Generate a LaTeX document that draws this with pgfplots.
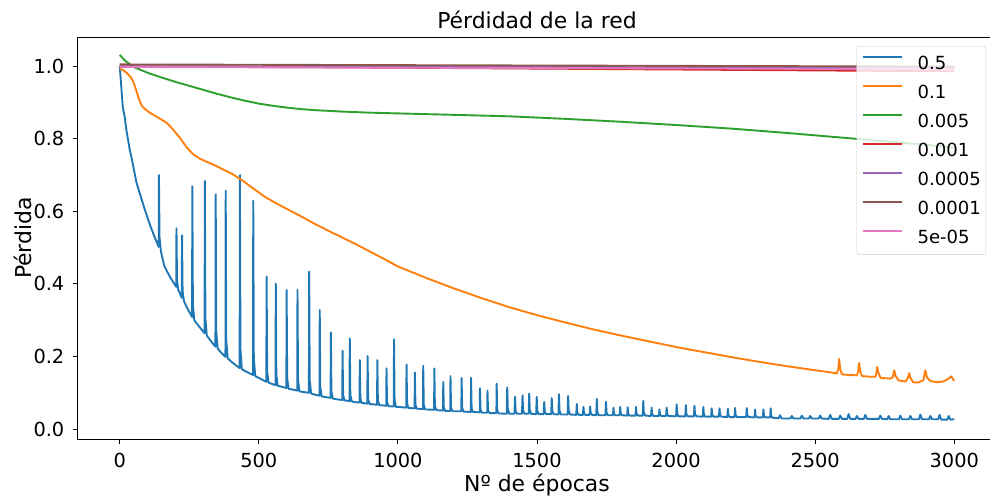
\documentclass[border=0pt]{standalone}
\usepackage{fontspec}
\setmainfont{DejaVu Sans}
\usepackage{pgfplots}
\pgfplotsset{compat=1.18}

% tab10 palette
\definecolor{tabblue}{HTML}{1F77B4}
\definecolor{taborange}{HTML}{FF7F0E}
\definecolor{tabgreen}{HTML}{2CA02C}
\definecolor{tabred}{HTML}{D62728}
\definecolor{tabpurple}{HTML}{9467BD}
\definecolor{tabbrown}{HTML}{8C564B}
\definecolor{tabpink}{HTML}{E377C2}
\definecolor{legframe}{HTML}{CCCCCC}

\newcommand{\tickfont}{\fontsize{19.35}{23}\selectfont}
\newcommand{\legfont}{\fontsize{18.06}{21}\selectfont}
\newcommand{\labfont}{\fontsize{21.9}{26}\selectfont}

\begin{document}
\begin{tikzpicture}
\begin{axis}[
  scale only axis, width=918pt, height=402pt,
  xmin=-150, xmax=3150, ymin=-0.0275, ymax=1.0806,
  axis line style={line width=1pt, black},
  tick align=outside, major tick length=4.5pt,
  every tick/.style={black, line width=1pt},
  xtick pos=bottom, ytick pos=left,
  xtick={0,500,1000,1500,2000,2500,3000},
  xticklabels={0,500,1000,1500,2000,2500,3000},
  ytick={0,0.2,0.4,0.6,0.8,1.0},
  yticklabels={0.0,0.2,0.4,0.6,0.8,1.0},
  every x tick label/.append style={font=\tickfont, inner sep=0pt, anchor=base, yshift=-23.5pt},
  every y tick label/.append style={font=\tickfont, inner sep=0pt, anchor=east, xshift=-9pt},
  title={Pérdidad de la red},
  every axis title/.style={at={(axis description cs:0.5,1)}, anchor=base, yshift=8.7pt, font=\labfont, inner sep=0pt},
  xlabel={Nº de épocas},
  every axis x label/.style={at={(axis description cs:0.5,0)}, anchor=base, yshift=-52pt, font=\labfont, inner sep=0pt},
  ylabel={Pérdida},
  every axis y label/.style={at={(axis description cs:0,0.5)}, xshift=-46pt, rotate=90, anchor=base, font=\labfont, inner sep=0pt},
  every axis plot/.append style={line width=1.9pt, line join=round},
  legend cell align=left,
  legend image code/.code={\draw[sharp corners, line width=1.9pt, #1] (0pt,6.6pt) -- (39pt,6.6pt);},
  legend style={at={(axis description cs:1,1)}, anchor=north east, xshift=-10pt, yshift=-9pt,
    draw=legframe, fill=white, fill opacity=0.8, text opacity=1, rounded corners=2.5pt,
    inner xsep=5pt, inner ysep=10pt,
    row sep=13.9pt, column sep=15pt, font=\legfont, nodes={inner sep=0pt}},
]

% lr = 0.5
\addplot[color=tabblue] coordinates {
(0,1.000) (5,0.950) (11,0.887) (18,0.860) (24,0.824) (36,0.770) (42,0.750) (60,0.680) (72,0.650) (90,0.605) (110,0.560) (125,0.530) (140,0.502)
(141,0.700) (143,0.530) (148,0.490) (160,0.450) (180,0.420) (203,0.392)
(204,0.553) (206,0.410) (210,0.385) (223,0.362)
(224,0.534) (226,0.380) (231,0.352) (245,0.330) (260,0.309)
(261,0.669) (263,0.345) (268,0.300) (285,0.283) (305,0.264)
(306,0.684) (308,0.306) (313,0.258) (325,0.245) (344,0.227)
(345,0.647) (347,0.270) (352,0.222) (365,0.210) (380,0.199)
(381,0.657) (383,0.245) (388,0.195) (405,0.183) (431,0.168)
(432,0.700) (434,0.220) (439,0.165) (455,0.158) (479,0.149)
(480,0.629) (482,0.197) (487,0.146) (505,0.139) (527,0.130)
(528,0.420) (530,0.159) (535,0.128) (545,0.125) (560,0.121)
(561,0.401) (563,0.149) (568,0.119) (580,0.117) (599,0.113)
(600,0.383) (602,0.140) (607,0.111) (620,0.109) (638,0.106)
(639,0.384) (641,0.134) (646,0.104) (660,0.102) (680,0.100)
(681,0.434) (683,0.133) (688,0.098) (700,0.095) (718,0.092)
(719,0.328) (721,0.116) (726,0.090) (740,0.088) (758,0.086)
(759,0.266) (761,0.104) (766,0.084) (780,0.082) (800,0.080)
(801,0.216) (803,0.094) (808,0.079) (826,0.077)
(827,0.250) (829,0.094) (834,0.076) (848,0.074) (862,0.073)
(863,0.190) (865,0.085) (870,0.072) (890,0.070)
(891,0.201) (893,0.083) (898,0.069) (925,0.067)
(926,0.190) (928,0.079) (933,0.066) (958,0.064)
(959,0.167) (961,0.074) (966,0.063) (985,0.062)
(986,0.247) (988,0.080) (993,0.061) (1015,0.060) (1030,0.059)
(1031,0.178) (1033,0.071) (1038,0.058) (1060,0.057)
(1061,0.156) (1063,0.067) (1068,0.056) (1090,0.055)
(1091,0.174) (1093,0.067) (1098,0.054) (1130,0.053)
(1131,0.167) (1133,0.064) (1138,0.052) (1162,0.051)
(1163,0.130) (1165,0.059) (1170,0.050) (1188,0.050)
(1189,0.146) (1191,0.060) (1196,0.049) (1228,0.049)
(1229,0.141) (1231,0.058) (1236,0.048) (1262,0.047)
(1263,0.141) (1265,0.056) (1270,0.047) (1294,0.046)
(1295,0.112) (1297,0.053) (1302,0.045) (1321,0.045)
(1322,0.106) (1324,0.051) (1329,0.044) (1354,0.044)
(1355,0.125) (1357,0.052) (1362,0.043) (1391,0.042)
(1393,0.115) (1395,0.057) (1400,0.042)
(1419,0.042) (1421,0.089) (1423,0.051) (1428,0.042)
(1446,0.042) (1448,0.093) (1450,0.052) (1455,0.042)
(1470,0.042) (1472,0.098) (1474,0.053) (1479,0.042)
(1497,0.041) (1499,0.089) (1501,0.050) (1506,0.041)
(1524,0.041) (1526,0.075) (1528,0.048) (1533,0.041)
(1551,0.041) (1553,0.085) (1555,0.050) (1560,0.041)
(1577,0.040) (1579,0.096) (1581,0.051) (1586,0.040)
(1610,0.040) (1612,0.091) (1614,0.050) (1619,0.040)
(1641,0.039) (1643,0.069) (1645,0.045) (1650,0.039)
(1665,0.039) (1667,0.061) (1669,0.043) (1674,0.039)
(1689,0.039) (1691,0.062) (1693,0.044) (1698,0.039)
(1713,0.038) (1715,0.083) (1717,0.047) (1722,0.038)
(1746,0.038) (1748,0.075) (1750,0.045) (1755,0.038)
(1773,0.038) (1775,0.059) (1777,0.042) (1782,0.038)
(1797,0.038) (1799,0.061) (1801,0.043) (1806,0.038)
(1824,0.037) (1826,0.060) (1828,0.042) (1833,0.037)
(1854,0.037) (1856,0.061) (1858,0.042) (1863,0.037)
(1880,0.037) (1882,0.078) (1884,0.045) (1889,0.037)
(1910,0.036) (1912,0.059) (1914,0.041) (1919,0.036)
(1938,0.036) (1940,0.054) (1942,0.040) (1947,0.036)
(1964,0.036) (1966,0.059) (1968,0.041) (1973,0.036)
(2000,0.035) (2002,0.068) (2004,0.042) (2009,0.035)
(2033,0.035) (2035,0.066) (2037,0.041) (2042,0.035)
(2064,0.035) (2066,0.064) (2068,0.041) (2073,0.035)
(2096,0.034) (2098,0.061) (2100,0.039) (2105,0.034)
(2126,0.034) (2128,0.057) (2130,0.039) (2135,0.034)
(2154,0.034) (2156,0.057) (2158,0.039) (2163,0.034)
(2184,0.033) (2186,0.056) (2188,0.038) (2193,0.033)
(2210,0.033) (2212,0.058) (2214,0.038) (2219,0.033)
(2252,0.033) (2254,0.058) (2256,0.038) (2261,0.033)
(2282,0.032) (2284,0.054) (2286,0.036) (2291,0.032)
(2312,0.032) (2314,0.054) (2316,0.036) (2321,0.032)
(2338,0.032) (2340,0.057) (2342,0.037) (2347,0.031)
(2369,0.030) (2374,0.038) (2380,0.029)
(2411,0.029) (2416,0.036) (2422,0.029)
(2447,0.029) (2452,0.037) (2458,0.029)
(2477,0.029) (2482,0.036) (2488,0.029)
(2513,0.029) (2518,0.037) (2524,0.029)
(2549,0.028) (2554,0.039) (2560,0.028)
(2585,0.028) (2590,0.037) (2596,0.028)
(2615,0.028) (2620,0.041) (2626,0.028)
(2645,0.028) (2650,0.036) (2656,0.028)
(2675,0.028) (2680,0.039) (2686,0.028)
(2729,0.028) (2734,0.037) (2740,0.028)
(2759,0.027) (2764,0.036) (2770,0.027)
(2801,0.027) (2806,0.037) (2812,0.027)
(2837,0.027) (2842,0.036) (2848,0.027)
(2873,0.027) (2878,0.040) (2884,0.027)
(2909,0.027) (2914,0.036) (2920,0.027)
(2942,0.027) (2947,0.039) (2953,0.026)
(2975,0.026) (2980,0.036) (2986,0.026)
(3000,0.027)
};
\addlegendentry{0.5}

% lr = 0.1
\addplot[color=taborange] coordinates {
(0,0.994) (10,0.990) (20,0.985) (30,0.978) (40,0.970) (50,0.955) (60,0.932) (70,0.908) (80,0.890) (95,0.879) (108,0.872) (130,0.862) (150,0.853) (169,0.844) (190,0.827) (216,0.803) (240,0.777) (263,0.758) (288,0.745) (312,0.737) (350,0.724) (407,0.702) (443,0.684) (480,0.663) (520,0.641) (551,0.627) (600,0.607) (650,0.587) (700,0.566) (767,0.540) (800,0.528) (850,0.509) (900,0.489) (950,0.469) (1000,0.448)
(1100,0.417) (1200,0.388) (1300,0.361) (1400,0.336) (1500,0.314) (1600,0.294) (1700,0.275) (1800,0.258) (1900,0.242) (2000,0.226) (2100,0.212) (2200,0.198) (2300,0.185) (2400,0.173) (2500,0.162) (2565,0.155)
(2578,0.153) (2583,0.165) (2586,0.193) (2590,0.165) (2596,0.151) (2620,0.149) (2650,0.148) (2655,0.160) (2658,0.182) (2662,0.158) (2668,0.146) (2700,0.144) (2717,0.144) (2721,0.160) (2723,0.171) (2727,0.155) (2735,0.141) (2770,0.139) (2779,0.143) (2784,0.162) (2789,0.146) (2800,0.134) (2825,0.131) (2833,0.140) (2838,0.154) (2843,0.140) (2852,0.129) (2870,0.128) (2889,0.135) (2896,0.162) (2902,0.142) (2915,0.132) (2940,0.129) (2960,0.131) (2975,0.137) (2989,0.145) (3000,0.133)
};
\addlegendentry{0.1}

% lr = 0.005
\addplot[color=tabgreen] coordinates {
(0,1.031) (20,1.015) (50,0.998) (100,0.982) (150,0.969) (200,0.957) (250,0.946) (300,0.935) (350,0.924) (400,0.914) (450,0.905) (500,0.897) (550,0.891) (600,0.886) (650,0.882) (700,0.879) (800,0.875) (900,0.872) (1000,0.870) (1200,0.866) (1400,0.862) (1600,0.855) (1800,0.847) (2000,0.838) (2200,0.828) (2400,0.816) (2600,0.803) (2800,0.790) (3000,0.776)
};
\addlegendentry{0.005}

% lr = 0.001
\addplot[color=tabred] coordinates {(0,1.000) (1000,0.996) (2000,0.991) (3000,0.986)};
\addlegendentry{0.001}

% lr = 0.0005
\addplot[color=tabpurple] coordinates {(0,1.000) (1500,0.998) (3000,0.995)};
\addlegendentry{0.0005}

% lr = 0.0001
\addplot[color=tabbrown] coordinates {(0,1.005) (1500,1.002) (3000,0.999)};
\addlegendentry{0.0001}

% lr = 5e-05
\addplot[color=tabpink] coordinates {(0,0.998) (1500,0.995) (3000,0.992)};
\addlegendentry{5e-05}

\end{axis}
\pgfresetboundingbox
\useasboundingbox (-78pt,-60pt) rectangle (912pt,439pt);
\end{tikzpicture}
\end{document}
